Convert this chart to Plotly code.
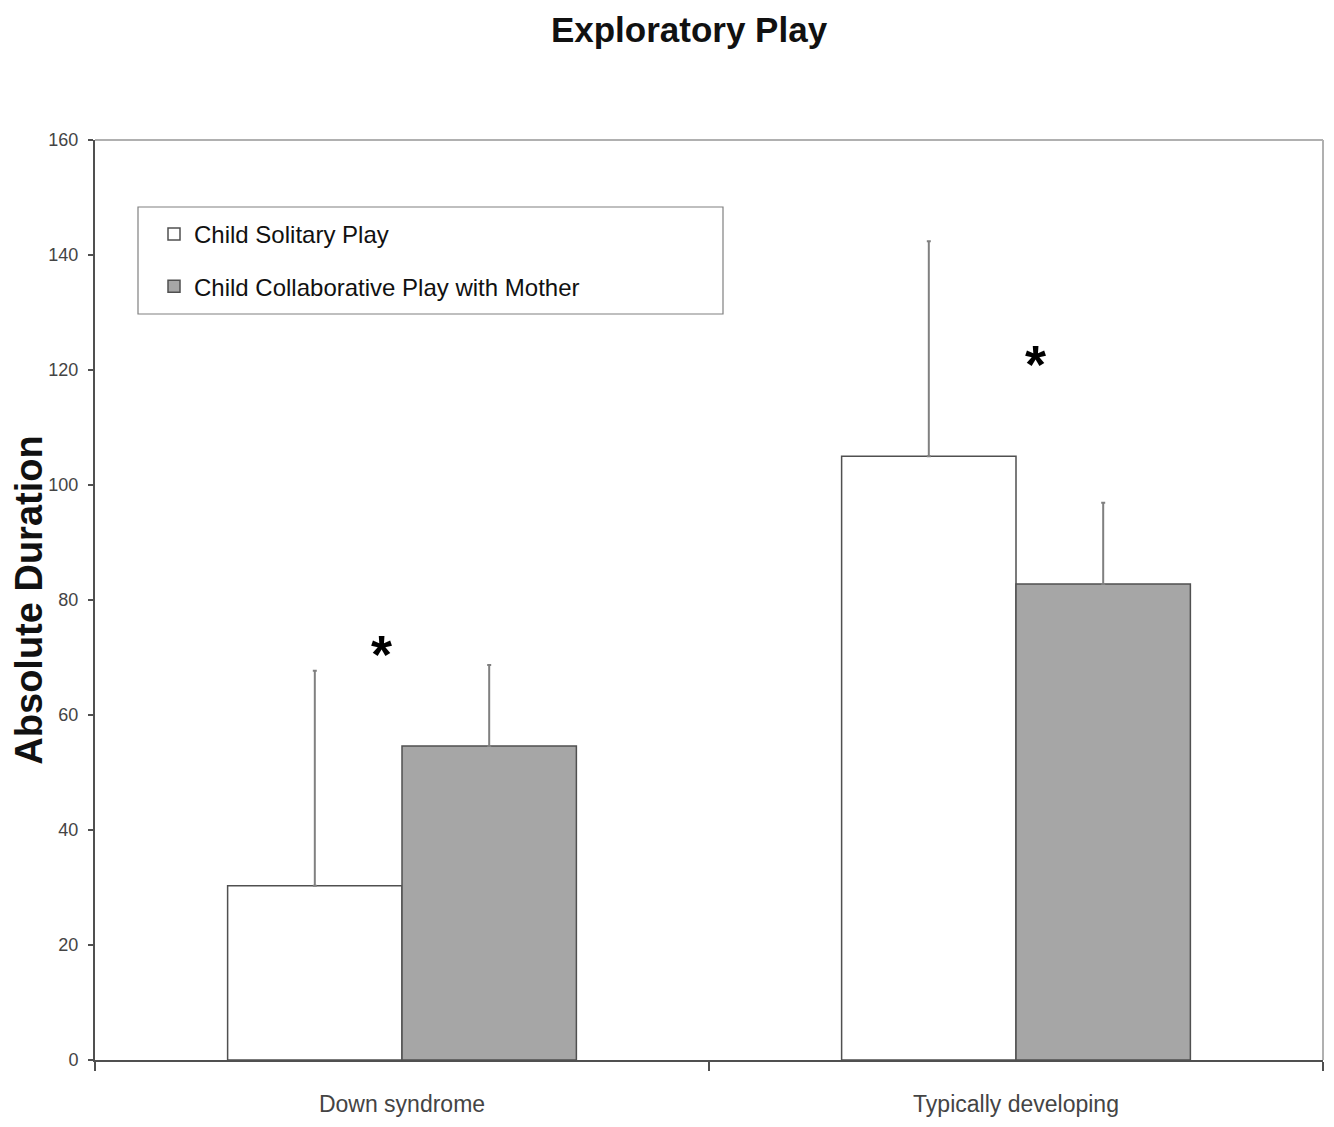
import plotly.graph_objects as go

categories = ["Down syndrome", "Typically developing"]
solitary_mean = [30.3, 105.0]
solitary_err = [37.4, 37.4]
collab_mean = [54.6, 82.8]
collab_err = [14.1, 14.1]
star_y = [72.0, 122.5]
star_shift = [-21, 19]

SANS = "Liberation Sans, Arial, sans-serif"

PW = 1228.0  # plot width in px
PL = 95.0    # absolute plot left in screenshot
PB = 1060.0  # absolute plot bottom
PH = 920.0   # plot height

fig = go.Figure()
fig.add_trace(go.Bar(
    name="Child Solitary Play", x=categories, y=solitary_mean,
    legendgroup="a",
    marker=dict(color="white", line=dict(color="#505050", width=1.5)),
    error_y=dict(type="data", symmetric=False, array=solitary_err,
                 arrayminus=[0, 0], color="#808080", thickness=2, width=2),
))
fig.add_trace(go.Bar(
    name="Child Collaborative Play with Mother", x=categories, y=collab_mean,
    legendgroup="b",
    marker=dict(color="#a6a6a6", line=dict(color="#505050", width=1.5)),
    error_y=dict(type="data", symmetric=False, array=collab_err,
                 arrayminus=[0, 0], color="#808080", thickness=2, width=2),
))

for c, y, s in zip(categories, star_y, star_shift):
    fig.add_annotation(x=c, y=y, xref="x", yref="y", text="<b>*</b>",
                       showarrow=False, xshift=s, yshift=-8,
                       font=dict(family=SANS, size=54, color="black"))

# light gray top/right plot frame
fig.add_shape(type="line", xref="paper", yref="paper", x0=0, x1=1, y0=1, y1=1,
              line=dict(color="#b0b0b0", width=2))
fig.add_shape(type="line", xref="paper", yref="paper", x0=1, x1=1, y0=0, y1=1,
              line=dict(color="#b0b0b0", width=2))
# legend box
fig.add_shape(type="rect", xref="paper", yref="paper",
              x0=(138 - PL) / PW, x1=(723 - PL) / PW,
              y0=(PB - 314) / PH, y1=(PB - 207) / PH,
              line=dict(color="#808080", width=1.2), fillcolor="rgba(0,0,0,0)")

fig.update_layout(
    width=1318, height=1111,
    margin=dict(l=87, r=3, t=132, b=59),
    paper_bgcolor="white", plot_bgcolor="white",
    barmode="group", bargap=0.432, bargroupgap=0,
    title=dict(text="<b>Exploratory Play</b>", x=(681 - 87) / PW,
               xanchor="center", xref="paper", y=0.980, yanchor="middle",
               font=dict(family=SANS, size=35, color="#111111")),
    showlegend=True,
    legend=dict(x=(154 - PL) / PW, y=(PB - 212) / PH,
                xanchor="left", yanchor="top",
                bgcolor="rgba(0,0,0,0)", borderwidth=0,
                font=dict(family=SANS, size=24, color="#111111"),
                tracegroupgap=18, traceorder="grouped"),
    xaxis=dict(type="category", range=[-0.5, 1.5], tickson="boundaries",
               automargin=False,
               ticks="outside", ticklen=9, tickwidth=1.5, tickcolor="#505050",
               showline=True, linecolor="#505050", linewidth=2,
               showgrid=False, zeroline=False, ticklabelstandoff=22,
               tickfont=dict(family=SANS, size=23, color="#444444")),
    yaxis=dict(range=[0, 160], dtick=20, ticks="outside", ticklen=5,
               automargin=False,
               tickwidth=1.5, tickcolor="#505050",
               showline=True, linecolor="#505050", linewidth=2,
               showgrid=False, zeroline=False, ticklabelstandoff=6,
               tickfont=dict(family=SANS, size=18, color="#444444"),
               title=dict(text="<b>Absolute Duration</b>", standoff=20,
                          font=dict(family=SANS, size=38, color="#111111"))),
)

fig.write_html("out.html")
